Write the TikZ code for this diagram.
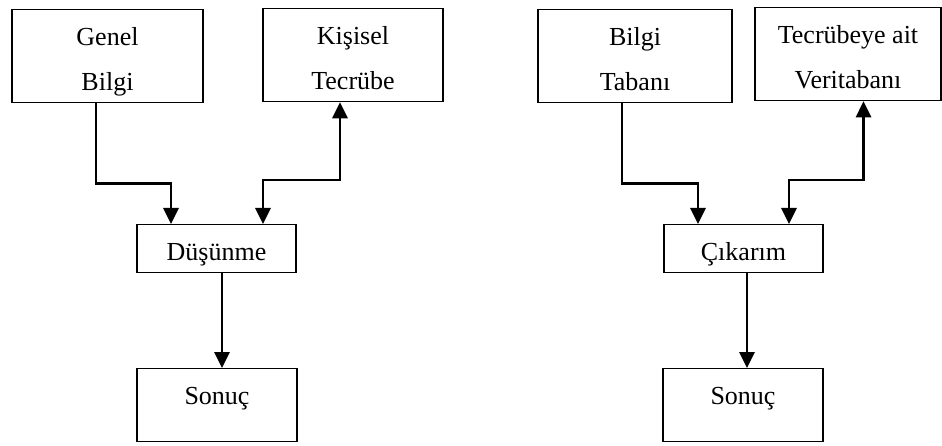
\documentclass[tikz,border=0pt]{standalone}
\usepackage{fontspec}
\setmainfont{Liberation Serif}
\usepackage{tikz}
\usetikzlibrary{arrows.meta}

\begin{document}
\begin{tikzpicture}[x=1pt, y=-1pt]
    % Define styles
    \tikzstyle{box} = [rectangle, draw, line width=1.3pt, inner sep=0pt, anchor=north, font=\fontsize{26}{45}\selectfont, align=center]
    \tikzstyle{twoline} = [box, text height=81pt, text depth=12pt]
    \tikzstyle{oneline} = [box, text height=36pt, text depth=12pt]
    \tikzstyle{result} = [box, text height=36pt, text depth=37pt]
    \tikzstyle{arr} = [draw, line width=2.8pt, -{Triangle[length=16pt, width=15pt]}]
    \tikzstyle{biarr} = [draw, line width=2.8pt, {Triangle[length=16pt, width=15pt]}-{Triangle[length=16pt, width=15pt]}]

    \useasboundingbox (0,0) rectangle (942,446);

    % Left diagram
    \node[twoline, minimum width=191pt] (genel) at (107.5,9) {Genel\\Bilgi};
    \node[twoline, minimum width=180pt] (kisisel) at (353,8) {Kişisel\\Tecrübe};
    \node[oneline, minimum width=159pt] (dusunme) at (216.5,224) {Düşünme};
    \node[result, minimum width=160pt] (sonuc1) at (217,368) {Sonuç};

    % Right diagram
    \node[twoline, minimum width=194pt] (bilgi) at (635,9) {Bilgi\\Tabanı};
    \node[twoline, minimum width=186pt] (tecrube) at (848,7) {Tecrübeye ait\\Veritabanı};
    \node[oneline, minimum width=159pt] (cikarim) at (743.5,224) {Çıkarım};
    \node[result, minimum width=160pt] (sonuc2) at (743,368) {Sonuç};

    % Left connections
    \draw[arr] ([xshift=-11.5pt]genel.south) -- ++(0,80) -| ([xshift=-45.5pt]dusunme.north);
    \draw[biarr] ([xshift=46.5pt]dusunme.north) -- ++(0,-44) -| ([xshift=-13pt]kisisel.south);
    \draw[arr] ([xshift=5.5pt]dusunme.south) -- ([xshift=5pt]sonuc1.north);

    % Right connections
    \draw[arr] ([xshift=-13pt]bilgi.south) -- ++(0,80) -| ([xshift=-45.5pt]cikarim.north);
    \draw[biarr] ([xshift=45.5pt]cikarim.north) -- ++(0,-44) -| ([xshift=15.5pt]tecrube.south);
    \draw[arr] ([xshift=3.5pt]cikarim.south) -- ([xshift=4pt]sonuc2.north);

\end{tikzpicture}
\end{document}
